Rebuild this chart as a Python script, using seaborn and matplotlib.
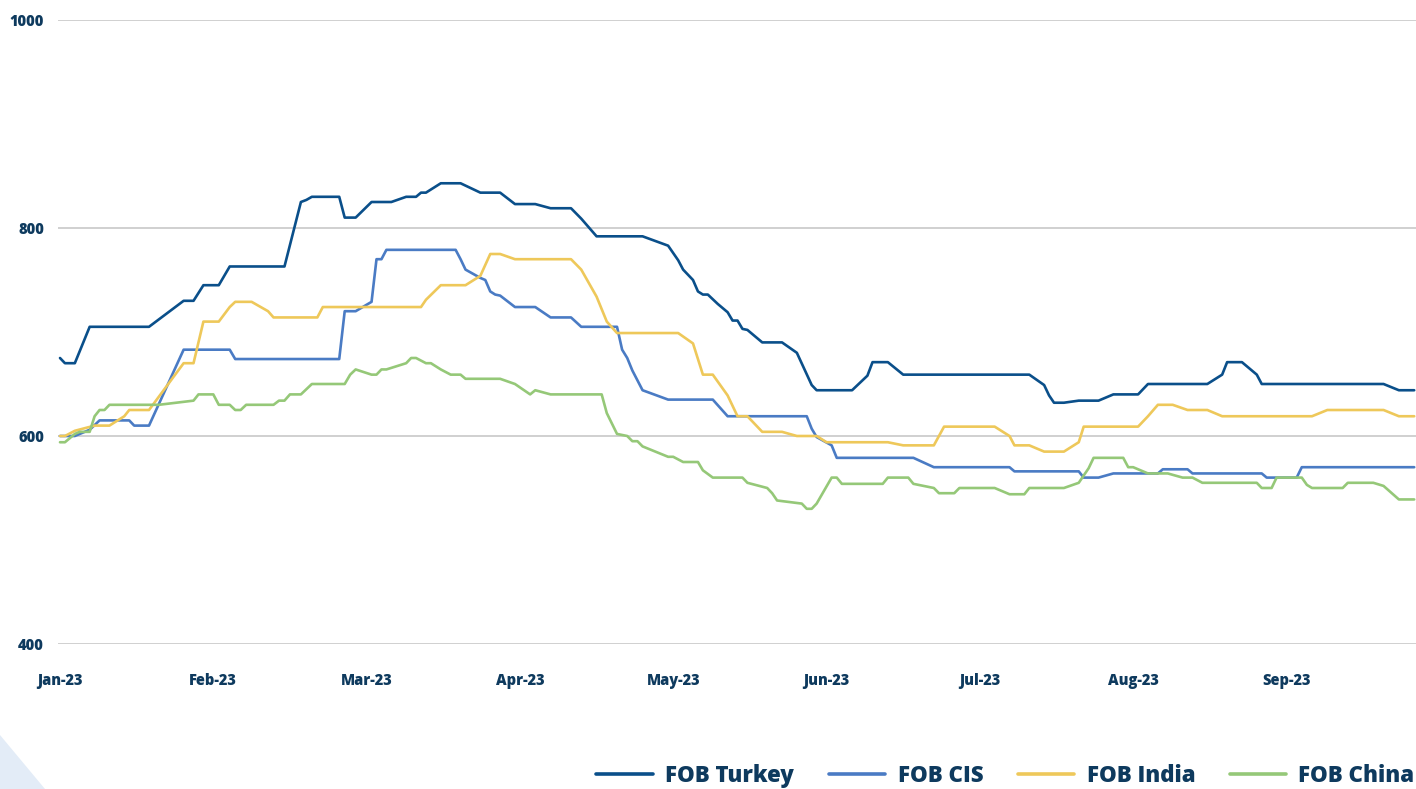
import pandas as pd
import matplotlib
matplotlib.use('Agg')
import matplotlib.pyplot as plt
from matplotlib.patches import Polygon
import seaborn as sns

# FOB prices, breakpoints (dates in 2023, MM-DD)
turkey_dates = ['01-01', '01-02', '01-04', '01-07', '01-19', '01-26', '01-28', '01-30', '02-02', '02-04',
                '02-14', '02-17', '02-18', '02-19', '02-24', '02-25', '02-27', '03-02', '03-06', '03-09',
                '03-11', '03-12', '03-13', '03-16', '03-20', '03-24', '03-28', '03-31', '04-04', '04-07',
                '04-11', '04-13', '04-16', '04-25', '04-30', '05-02', '05-03', '05-05', '05-06', '05-07',
                '05-08', '05-10', '05-12', '05-13', '05-14', '05-15', '05-16', '05-19', '05-23', '05-26',
                '05-29', '05-30', '06-06', '06-09', '06-10', '06-13', '06-16', '07-11', '07-14', '07-15',
                '07-16', '07-18', '07-21', '07-25', '07-28', '08-02', '08-04', '08-16', '08-19', '08-20',
                '08-23', '08-26', '08-27', '09-20', '09-23', '09-26']
turkey_prices = [675, 670, 670, 705, 705, 730, 730, 745, 745, 763,
                 763, 825, 827, 830, 830, 810, 810, 825, 825, 830,
                 830, 834, 834, 843, 843, 834, 834, 823, 823, 819,
                 819, 809, 792, 792, 783, 769, 760, 750, 739, 736,
                 736, 727, 719, 711, 711, 703, 702, 690, 690, 680,
                 649, 644, 644, 658, 671, 671, 659, 659, 649, 639,
                 632, 632, 634, 634, 640, 640, 650, 650, 659, 671,
                 671, 659, 650, 650, 644, 644]

cis_dates = ['01-01', '01-04', '01-07', '01-09', '01-15', '01-16', '01-19', '01-26', '02-04', '02-05',
             '02-24', '02-25', '02-27', '03-02', '03-03', '03-04', '03-05', '03-19', '03-20', '03-21',
             '03-24', '03-25', '03-26', '03-27', '03-28', '03-31', '04-04', '04-07', '04-11', '04-13',
             '04-20', '04-21', '04-22', '04-23', '04-25', '04-30', '05-09', '05-12', '05-28', '05-29',
             '05-30', '06-02', '06-03', '06-18', '06-22', '07-07', '07-08', '07-21', '07-22', '07-25',
             '07-28', '08-06', '08-07', '08-12', '08-13', '08-27', '08-28', '09-03', '09-04', '09-26']
cis_prices = [600, 600, 606, 615, 615, 610, 610, 683, 683, 674,
              674, 720, 720, 729, 770, 770, 779, 779, 770, 760,
              752, 750, 739, 736, 735, 724, 724, 714, 714, 705,
              705, 683, 675, 663, 644, 635, 635, 619, 619, 607,
              599, 591, 579, 579, 570, 570, 566, 566, 560, 560,
              564, 564, 568, 568, 564, 564, 560, 560, 570, 570]

india_dates = ['01-01', '01-02', '01-04', '01-08', '01-11', '01-14', '01-15', '01-19', '01-26', '01-28',
               '01-30', '02-02', '02-04', '02-05', '02-08', '02-11', '02-12', '02-20', '02-21', '03-12',
               '03-13', '03-16', '03-21', '03-24', '03-26', '03-28', '03-31', '04-11', '04-13', '04-16',
               '04-18', '04-20', '05-02', '05-05', '05-07', '05-09', '05-12', '05-14', '05-16', '05-19',
               '05-23', '05-26', '05-30', '06-01', '06-13', '06-16', '06-22', '06-24', '07-04', '07-07',
               '07-08', '07-11', '07-14', '07-18', '07-21', '07-22', '08-02', '08-04', '08-06', '08-09',
               '08-12', '08-16', '08-19', '09-06', '09-09', '09-20', '09-23', '09-26']
india_prices = [600, 600, 605, 610, 610, 619, 625, 625, 670, 670,
                710, 710, 724, 729, 729, 720, 714, 714, 724, 724,
                731, 745, 745, 754, 775, 775, 770, 770, 760, 734,
                710, 699, 699, 689, 659, 659, 639, 619, 619, 604,
                604, 600, 600, 594, 594, 591, 591, 609, 609, 600,
                591, 591, 585, 585, 594, 609, 609, 619, 630, 630,
                625, 625, 619, 619, 625, 625, 619, 619]

china_dates = ['01-01', '01-02', '01-04', '01-05', '01-07', '01-08', '01-09', '01-10', '01-11', '01-21',
               '01-28', '01-29', '02-01', '02-02', '02-04', '02-05', '02-06', '02-07', '02-12', '02-13',
               '02-14', '02-15', '02-17', '02-19', '02-25', '02-26', '02-27', '03-02', '03-03', '03-04',
               '03-05', '03-09', '03-10', '03-11', '03-13', '03-14', '03-16', '03-18', '03-20', '03-21',
               '03-28', '03-31', '04-03', '04-04', '04-07', '04-17', '04-18', '04-20', '04-22', '04-23',
               '04-24', '04-25', '04-30', '05-01', '05-03', '05-06', '05-07', '05-09', '05-15', '05-16',
               '05-20', '05-21', '05-22', '05-27', '05-28', '05-29', '05-30', '06-02', '06-03', '06-04',
               '06-12', '06-13', '06-17', '06-18', '06-22', '06-23', '06-26', '06-27', '07-04', '07-07',
               '07-10', '07-11', '07-18', '07-21', '07-23', '07-24', '07-30', '07-31', '08-01', '08-04',
               '08-08', '08-11', '08-13', '08-15', '08-26', '08-27', '08-29', '08-30', '09-04', '09-05',
               '09-06', '09-12', '09-13', '09-18', '09-20', '09-23', '09-26']
china_prices = [594, 594, 602, 604, 604, 619, 625, 625, 630, 630,
                634, 640, 640, 630, 630, 625, 625, 630, 630, 634,
                634, 640, 640, 650, 650, 659, 664, 659, 659, 664,
                664, 670, 675, 675, 670, 670, 664, 659, 659, 655,
                655, 650, 640, 644, 640, 640, 622, 602, 600, 595,
                595, 590, 580, 580, 575, 575, 567, 560, 560, 555,
                550, 545, 538, 535, 530, 530, 535, 560, 560, 554,
                554, 560, 560, 554, 550, 545, 545, 550, 550, 544,
                544, 550, 550, 555, 569, 579, 579, 570, 570, 564,
                564, 560, 560, 555, 555, 550, 550, 560, 560, 553,
                550, 550, 555, 555, 552, 539, 539]

series_names = ['FOB Turkey', 'FOB CIS', 'FOB India', 'FOB China']
series_colors = ['#0A4F8A', '#4A7BC4', '#EEC85A', '#95C878']
month_labels = ['Jan-23', 'Feb-23', 'Mar-23', 'Apr-23', 'May-23', 'Jun-23', 'Jul-23', 'Aug-23', 'Sep-23']
y_ticks = [400, 600, 800, 1000]

TEXT = '#0E3A5E'


def month_pos(dates):
    # category-style month axis: every month gets the same width
    d = pd.to_datetime(['2023-' + s for s in dates])
    return (d.month - 1) + (d.day - 1) / d.days_in_month


frames = []
for name, dates, prices in [('FOB Turkey', turkey_dates, turkey_prices),
                            ('FOB CIS', cis_dates, cis_prices),
                            ('FOB India', india_dates, india_prices),
                            ('FOB China', china_dates, china_prices)]:
    frames.append(pd.DataFrame({'series': name, 'pos': month_pos(dates), 'price': prices}))
df = pd.concat(frames, ignore_index=True)

sns.set_theme(style='white')
plt.rcParams['font.family'] = ['Open Sans', 'DejaVu Sans']

fig = plt.figure(figsize=(14.16, 7.89), dpi=100)
ax = fig.add_axes([58 / 1416, 145 / 789, 1 - 58 / 1416, 624 / 789])

# light decorative triangle in the bottom-left corner
fig.patches.append(Polygon([(0, 54 / 789), (45 / 1416, 0), (0, 0)], closed=True,
                           transform=fig.transFigure, facecolor='#E3ECF7', edgecolor='none', zorder=0))

sns.lineplot(data=df, x='pos', y='price', hue='series', hue_order=series_names,
             palette=series_colors, estimator=None, sort=False, linewidth=1.9, ax=ax)

ax.set_xlim(-0.013, 8.845)
ax.set_ylim(400, 1000)
ax.set_yticks(y_ticks)
ax.set_yticklabels([str(v) for v in y_ticks])
ax.set_xticks(range(len(month_labels)))
ax.set_xticklabels(month_labels)
ax.set_xlabel('')
ax.set_ylabel('')
ax.yaxis.grid(True, color='#C4C4C4', linewidth=1.1)
ax.xaxis.grid(False)
for s in ax.spines.values():
    s.set_visible(False)
ax.tick_params(axis='y', length=0, pad=10, labelsize=10.5, labelcolor=TEXT)
ax.tick_params(axis='x', length=0, pad=21, labelsize=10.5, labelcolor=TEXT)
for lab in ax.get_xticklabels() + ax.get_yticklabels():
    lab.set_fontweight('heavy')

handles, labels = ax.get_legend_handles_labels()
ax.get_legend().remove()
leg = fig.legend(handles, labels, loc='center right', bbox_to_anchor=(0.999, 13 / 789),
                 ncol=4, frameon=False, borderaxespad=0, borderpad=0,
                 handlelength=2.55, handletextpad=0.55, columnspacing=1.55,
                 prop={'weight': 'heavy', 'size': 16})
for h in leg.legend_handles:
    h.set_linewidth(2.6)
for t in leg.get_texts():
    t.set_color(TEXT)

fig.savefig('out.png', dpi=100)
